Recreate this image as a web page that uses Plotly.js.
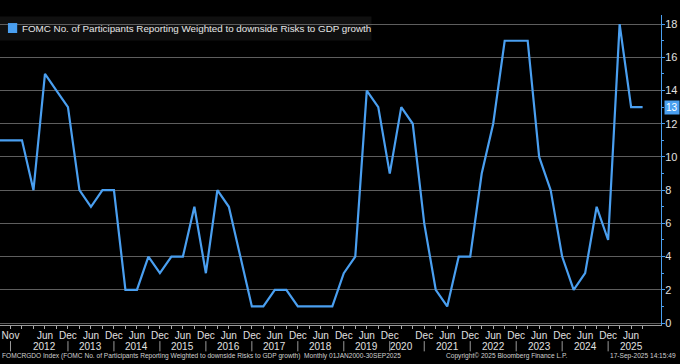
<!DOCTYPE html>
<html>
<head>
<meta charset="utf-8">
<script src="https://cdn.plot.ly/plotly-3.0.1.min.js"></script>
<style>
  html, body { margin: 0; padding: 0; background: #000; }
  #chart { width: 680px; height: 364px; }
</style>
</head>
<body>
<div id="chart"></div>
<script>
// Observation dates (FOMC SEP meetings) and values
const dates = [
  "Jun 2011","Nov 2011",
  "Jan 2012","Apr 2012","Jun 2012","Sep 2012","Dec 2012",
  "Mar 2013","Jun 2013","Sep 2013","Dec 2013",
  "Mar 2014","Jun 2014","Sep 2014","Dec 2014",
  "Mar 2015","Jun 2015","Sep 2015","Dec 2015",
  "Mar 2016","Jun 2016","Sep 2016","Dec 2016",
  "Mar 2017","Jun 2017","Sep 2017","Dec 2017",
  "Mar 2018","Jun 2018","Sep 2018","Dec 2018",
  "Mar 2019","Jun 2019","Sep 2019","Dec 2019",
  "Jun 2020","Sep 2020","Dec 2020",
  "Mar 2021","Jun 2021","Sep 2021","Dec 2021",
  "Mar 2022","Jun 2022","Sep 2022","Dec 2022",
  "Mar 2023","Jun 2023","Sep 2023","Dec 2023",
  "Mar 2024","Jun 2024","Sep 2024","Dec 2024",
  "Mar 2025","Jun 2025","Sep 2025"
];
const values = [
  11, 11,
  11, 8, 15, 14, 13,
  8, 7, 8, 8,
  2, 2, 4, 3,
  4, 4, 7, 3,
  8, 7, 4, 1,
  1, 2, 2, 1,
  1, 1, 1, 3,
  4, 14, 13, 9,
  13, 12, 6,
  2, 1, 4, 4,
  9, 12, 17, 17,
  17, 10, 8, 4,
  2, 3, 7, 5,
  18, 13, 13
];
// Labelled month ticks (first row); years in the second row; separators at these dates
const monthTicks = [
  "Nov 2011","Jun 2012","Dec 2012","Jun 2013","Dec 2013","Jun 2014","Dec 2014",
  "Jun 2015","Dec 2015","Jun 2016","Dec 2016","Jun 2017","Dec 2017","Jun 2018",
  "Dec 2018","Jun 2019","Dec 2019","Dec 2020","Jun 2021","Dec 2021","Jun 2022",
  "Dec 2022","Jun 2023","Dec 2023","Jun 2024","Dec 2024","Jun 2025"
];
const yearLabels = ["2012","2013","2014","2015","2016","2017","2018","2019","2020",
                    "2021","2022","2023","2024","2025"];
const separators = [
  "Nov 2011","Dec 2012","Dec 2013","Dec 2014","Dec 2015","Dec 2016","Dec 2017",
  "Dec 2018","Dec 2019","Dec 2020","Dec 2021","Dec 2022","Dec 2023","Dec 2024"
];
const seriesName = "FOMC No. of Participants Reporting Weighted to downside Risks to GDP growth";
const footerLeft = "FOMCRGDO Index (FOMC No. of Participants Reporting Weighted to downside Risks to GDP growth)  Monthly 01JAN2000-30SEP2025";
const footerMid = "Copyright\u00a9 2025 Bloomberg Finance L.P.";
const footerRight = "17-Sep-2025 14:15:49";

const FONT = "'Liberation Sans Narrow', 'Arial Narrow', 'Liberation Sans', Arial, sans-serif";
const BLUE = "#4a9ff0";
const TXT = "#e0e0e0";

const ticktext = dates.map(d => monthTicks.includes(d) ? d.split(" ")[0] : "");
const lastVal = values[values.length - 1];

function yearPos(y) {
  const j = dates.indexOf("Jun " + y);
  if (j >= 0) return j;
  return (dates.indexOf("Dec " + (Number(y) - 1)) + dates.indexOf("Dec " + y)) / 2;
}

const trace = {
  x: dates, y: values, type: "scatter", mode: "lines",
  line: { color: BLUE, width: 2.2 },
  showlegend: false, hoverinfo: "skip"
};

const shapes = [
  { type: "rect", xref: "paper", yref: "paper", layer: "between",
    x0: 0, x1: 0.562, y0: 0.918, y1: 0.995,
    fillcolor: "#101010", line: { width: 0 } },
  { type: "rect", xref: "paper", yref: "paper", layer: "above",
    x0: 0.012, x1: 0.026, y0: 0.942, y1: 0.974,
    fillcolor: BLUE, line: { width: 0 } }
];
separators.forEach(d => shapes.push({
  type: "line", xref: "x", yref: "paper",
  x0: dates.indexOf(d), x1: dates.indexOf(d), y0: -0.052, y1: -0.085,
  line: { color: "#9a9a9a", width: 1 }
}));

const annotations = [
  { xref: "paper", yref: "paper", x: 0.03, y: 0.957, xanchor: "left", yanchor: "middle",
    text: seriesName, showarrow: false,
    font: { family: FONT, size: 9.8, color: "#e6e6e6" } },
  { xref: "paper", yref: "y", x: 1.004, y: lastVal, xanchor: "left", yanchor: "middle",
    text: String(lastVal), showarrow: false, bgcolor: BLUE, borderpad: 1,
    font: { family: FONT, size: 10, color: "#ffffff" } },
  { xref: "paper", yref: "paper", x: 0.0, y: -0.099, xanchor: "left", yanchor: "middle",
    text: footerLeft, showarrow: false,
    font: { family: FONT, size: 6.6, color: "#d0d0d0" } },
  { xref: "paper", yref: "paper", x: 0.672, y: -0.099, xanchor: "left", yanchor: "middle",
    text: footerMid, showarrow: false,
    font: { family: FONT, size: 6.6, color: "#d0d0d0" } },
  { xref: "paper", yref: "paper", x: 1.026, y: -0.099, xanchor: "right", yanchor: "middle",
    text: footerRight, showarrow: false,
    font: { family: FONT, size: 6.6, color: "#d0d0d0" } }
];
yearLabels.forEach(y => annotations.push({
  xref: "x", yref: "paper", x: yearPos(y), y: -0.068, xanchor: "center", yanchor: "middle",
  text: y, showarrow: false, font: { family: FONT, size: 10, color: TXT }
}));

const layout = {
  width: 680, height: 364,
  paper_bgcolor: "#000", plot_bgcolor: "#000",
  margin: { l: 0, r: 19, t: 15, b: 39 },
  font: { family: FONT, color: TXT, size: 10 },
  xaxis: {
    type: "category",
    range: [0.087, 57.6],
    tickmode: "array", tickvals: dates, ticktext: ticktext,
    tickangle: 0,
    ticks: "outside", ticklen: 3, tickcolor: "#aaaaaa", tickwidth: 1,
    ticklabelstandoff: -2,
    showline: true, linecolor: "#9a9a9a", linewidth: 1,
    showgrid: false, zeroline: false,
    tickfont: { family: FONT, size: 10, color: TXT }
  },
  yaxis: {
    side: "right",
    range: [-0.12, 18.55],
    tick0: 0, dtick: 2,
    ticks: "outside", ticklen: 3, tickcolor: BLUE, tickwidth: 1,
    ticklabelstandoff: -2,
    minor: { dtick: 1, ticks: "outside", ticklen: 2, tickcolor: BLUE, showgrid: false },
    showline: true, linecolor: BLUE, linewidth: 1,
    showgrid: true, gridcolor: "#5e5e5e", gridwidth: 1,
    zeroline: false,
    tickfont: { family: FONT, size: 11, color: TXT }
  },
  shapes: shapes,
  annotations: annotations
};

Plotly.newPlot("chart", [trace], layout, { staticPlot: true, displayModeBar: false });
</script>
</body>
</html>
